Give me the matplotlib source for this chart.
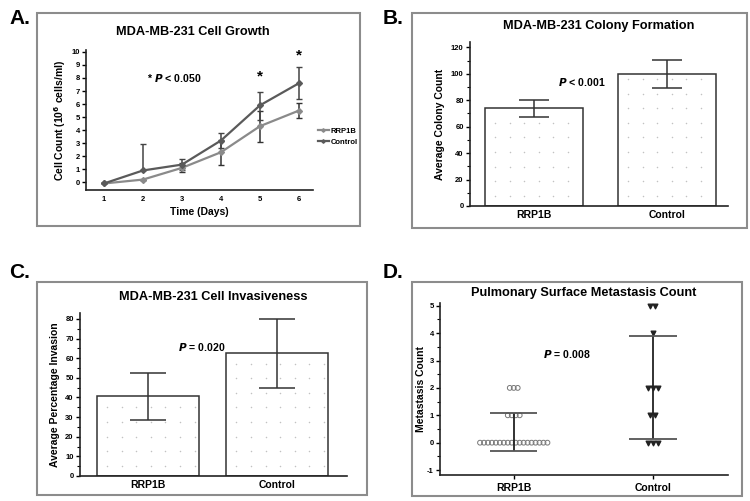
import matplotlib.pyplot as plt
import numpy as np
from matplotlib.patches import Rectangle

plt.rcParams['font.family'] = ['Liberation Sans', 'DejaVu Sans']
plt.rcParams['font.weight'] = 'bold'
plt.rcParams['axes.unicode_minus'] = False

# Panel A: cell growth
days = [1, 2, 3, 4, 5, 6]
rrp1b_growth = [-0.1, 0.2, 1.1, 2.3, 4.3, 5.5]
rrp1b_growth_err_lo = [0.0, 0.0, 0.35, 0.95, 1.25, 0.6]
rrp1b_growth_err_hi = [0.0, 0.0, 0.35, 0.95, 1.2, 0.6]
control_growth = [-0.1, 0.9, 1.35, 3.2, 5.9, 7.6]
control_growth_err_lo = [0.0, 0.0, 0.45, 0.6, 1.1, 1.25]
control_growth_err_hi = [0.0, 2.0, 0.45, 0.6, 1.0, 1.25]
star_days = [5, 6]
star_heights = [8.1, 9.7]

# Panel B: colony formation
groups = ["RRP1B", "Control"]
colony_mean = [74, 100]
colony_err = [6.5, 10.5]

# Panel C: invasiveness
invasion_mean = [40.5, 62.5]
invasion_err = [12.2, 17.5]

# Panel D: metastasis counts (value -> number of animals)
rrp1b_counts = {0: 18, 1: 4, 2: 3}
control_counts = {0: 3, 1: 2, 2: 3, 4: 1, 5: 2}
rrp1b_sd = (0.4, -0.3, 1.1)
control_sd = (2.0, 0.12, 3.9)

W, H = 750, 501
TITLE_SIZE = 9.2
P_SIZE = 7.6
fig = plt.figure(figsize=(7.5, 5.01), dpi=100)


def px_axes(x0, y0, x1, y1):
    return fig.add_axes([x0 / W, 1 - y1 / H, (x1 - x0) / W, (y1 - y0) / H])


def px_box(x0, y0, x1, y1):
    fig.patches.append(Rectangle((x0 / W, 1 - y1 / H), (x1 - x0) / W, (y1 - y0) / H,
                                 transform=fig.transFigure, fill=False,
                                 edgecolor="#8c8c8c", linewidth=1.5))


def style_axes(ax):
    for side in ("top", "right"):
        ax.spines[side].set_visible(False)
    for side in ("left", "bottom"):
        ax.spines[side].set_linewidth(1.2)
        ax.spines[side].set_color("#222222")
    ax.tick_params(axis="y", labelsize=5.5, length=3, width=1, pad=1.5)
    ax.tick_params(axis="x", labelsize=7.5, length=3, width=1, pad=3)


def dot_texture(ax, bars, step=14.6):
    # faint dotted fill inside each bar, like the original figure
    inv = ax.transData.inverted()
    for b in bars:
        bb = b.get_window_extent(renderer=fig.canvas.get_renderer())
        gx = np.arange(bb.x0 + step * 0.7, bb.x1 - 2, step)
        gy = np.arange(bb.y0 + step * 0.7, bb.y1 - 2, step)
        X, Y = np.meshgrid(gx, gy)
        pts = inv.transform(np.column_stack([X.ravel(), Y.ravel()]))
        ax.scatter(pts[:, 0], pts[:, 1], s=1.2, color="#c2c2c2", linewidths=0, zorder=2.5)


for lbl, x, y in [("A.", 20, 18), ("B.", 393, 18), ("C.", 20, 272), ("D.", 393, 272)]:
    fig.text(x / W, 1 - y / H, lbl, fontsize=15, fontweight="bold", ha="center", va="center")

px_box(37, 13, 360, 226)
px_box(412, 13, 747, 228)
px_box(37, 282, 367, 495)
px_box(412, 282, 742, 496)

# ---- A ----
ax = px_axes(86, 50, 313, 190)
style_axes(ax)
ax.errorbar(days, rrp1b_growth, yerr=[rrp1b_growth_err_lo, rrp1b_growth_err_hi], fmt="none",
            ecolor="#333333", capsize=2.5, elinewidth=1.1)
ax.errorbar(days, control_growth, yerr=[control_growth_err_lo, control_growth_err_hi], fmt="none",
            ecolor="#444444", capsize=2.5, elinewidth=1.1)
ax.plot(days, rrp1b_growth, color="#8a8a8a", marker="D", markersize=3, linewidth=1.6, label="RRP1B")
ax.plot(days, control_growth, color="#5a5a5a", marker="D", markersize=3, linewidth=1.6, label="Control")
for d, h in zip(star_days, star_heights):
    ax.text(d, h, "*", ha="center", va="center", fontsize=11, fontweight="bold")
ax.text(2.8, 8.0, "* $\\boldsymbol{P}$ < 0.050", ha="center", va="center", fontsize=P_SIZE, fontweight="bold")
ax.set_xlim(0.54, 6.36)
ax.set_ylim(-0.6, 10.15)
ax.set_xticks(days)
ax.set_yticks(range(0, 11))
ax.tick_params(axis="x", labelsize=5.5, length=0, pad=4)
ax.set_xlabel("Time (Days)", fontsize=7.5, fontweight="bold", labelpad=3)
ax.set_ylabel("Cell Count (10$^\\mathbf{6}$ cells/ml)", fontsize=7.5, fontweight="bold", labelpad=2)
ax.set_title("MDA-MB-231 Cell Growth", fontsize=TITLE_SIZE, fontweight="bold", pad=11, x=0.47)
ax.legend(loc="center left", bbox_to_anchor=(0.99, 0.38), frameon=False, fontsize=5.5,
          handlelength=1.5, handletextpad=0.2, labelspacing=0.5, markerscale=0.6)

# ---- B ----
ax = px_axes(470, 42, 728, 206)
style_axes(ax)
ax.set_xlim(-0.48, 1.46)
ax.set_ylim(0, 124)
bars = ax.bar([0, 1], colony_mean, width=0.737, color="white", edgecolor="#333333", linewidth=1.1, zorder=2)
dot_texture(ax, bars)
ax.errorbar([0, 1], colony_mean, yerr=colony_err, fmt="none", ecolor="#333333", elinewidth=1.1,
            capsize=10.5, capthick=1.1, zorder=3)
ax.text(0.36, 93.5, "$\\boldsymbol{P}$ < 0.001", ha="center", va="center", fontsize=P_SIZE, fontweight="bold")
ax.set_xticks([0, 1], groups)
ax.set_yticks(range(0, 121, 20))
ax.set_yticks(range(0, 121, 10), minor=True)
ax.tick_params(axis="y", which="minor", length=2, width=0.8)
ax.tick_params(axis="x", length=0)
ax.set_ylabel("Average Colony Count", fontsize=7.5, fontweight="bold", labelpad=4)
ax.set_title("MDA-MB-231 Colony Formation", fontsize=TITLE_SIZE, fontweight="bold", pad=9)

# ---- C ----
ax = px_axes(80, 313, 347, 476)
style_axes(ax)
ax.set_xlim(-0.525, 1.54)
ax.set_ylim(0, 83)
bars = ax.bar([0, 1], invasion_mean, width=0.79, color="white", edgecolor="#333333", linewidth=1.1, zorder=2)
dot_texture(ax, bars)
ax.errorbar([0, 1], invasion_mean, yerr=invasion_err, fmt="none", ecolor="#333333", elinewidth=1.1,
            capsize=13, capthick=1.1, zorder=3)
ax.text(0.42, 65.5, "$\\boldsymbol{P}$ = 0.020", ha="center", va="center", fontsize=P_SIZE, fontweight="bold")
ax.set_xticks([0, 1], groups)
ax.set_yticks(range(0, 81, 10))
ax.set_yticks(range(0, 81, 5), minor=True)
ax.tick_params(axis="y", which="minor", length=2, width=0.8)
ax.tick_params(axis="x", length=0)
ax.set_ylabel("Average Percentage Invasion", fontsize=7.5, fontweight="bold", labelpad=4)
ax.set_title("MDA-MB-231 Cell Invasiveness", fontsize=TITLE_SIZE, fontweight="bold", pad=9)

# ---- D ----
ax = px_axes(440, 303, 728, 475)
style_axes(ax)


def swarm(center, counts, step):
    xs, ys = [], []
    for val, n in counts.items():
        offs = (np.arange(n) - (n - 1) / 2) * step
        xs.extend(center + offs)
        ys.extend([val] * n)
    return xs, ys


xs, ys = swarm(0, rrp1b_counts, 0.0285)
ax.scatter(xs, ys, s=12, facecolors="none", edgecolors="#777777", linewidths=0.7, zorder=2)
xs, ys = swarm(1, control_counts, 0.036)
ax.scatter(xs, ys, s=11, marker="v", color="#222222", zorder=2)
for x, (m, lo, hi) in zip([0, 1], [rrp1b_sd, control_sd]):
    ax.vlines(x, lo, hi, color="#222222", linewidth=1.3, zorder=3)
    ax.hlines([lo, hi], x - 0.17, x + 0.17, color="#555555", linewidth=1.3, zorder=3)
ax.text(0.38, 3.25, "$\\boldsymbol{P}$ = 0.008", ha="center", va="center", fontsize=P_SIZE, fontweight="bold")
ax.set_xlim(-0.53, 1.54)
ax.set_ylim(-1.18, 5.1)
ax.set_xticks([0, 1], groups)
ax.set_yticks(range(-1, 6))
ax.set_yticks(np.arange(-1, 5.1, 0.5), minor=True)
ax.tick_params(axis="y", which="minor", length=2, width=0.8)
ax.set_ylabel("Metastasis Count", fontsize=7.5, fontweight="bold", labelpad=1)
ax.set_title("Pulmonary Surface Metastasis Count", fontsize=TITLE_SIZE, fontweight="bold", pad=5)

fig.savefig("out.png", dpi=100)
